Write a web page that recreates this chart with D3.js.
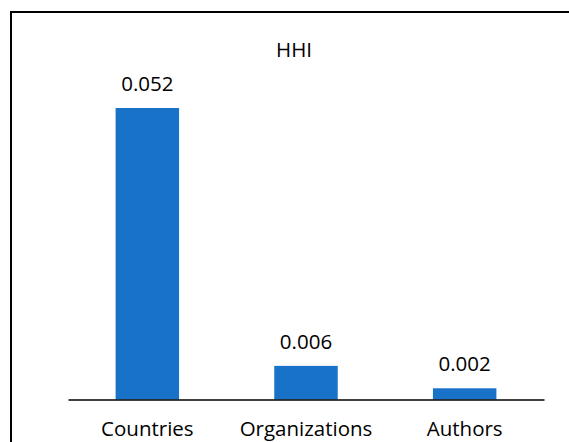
<!DOCTYPE html>
<html>
<head>
<meta charset="utf-8">
<script src="https://cdn.jsdelivr.net/npm/d3@7"></script>
<style>
  html, body { margin: 0; padding: 0; background: #fff; }
  svg { display: block; }
  text { font-family: "Open Sans", "Noto Sans", sans-serif; fill: #000; }
</style>
</head>
<body>
<svg id="chart" width="569" height="442"></svg>
<script>
// HHI concentration by unit of analysis
const categories = ["Countries", "Organizations", "Authors"];
const hhiValues = [0.052, 0.006, 0.002];
const valueLabels = ["0.052", "0.006", "0.002"];
const chartTitle = "HHI";

const svg = d3.select("#chart");
const W = 569, H = 442;

// Outer frame (extends past the right and bottom edges)
svg.append("rect")
  .attr("x", 11).attr("y", 12)
  .attr("width", W + 20).attr("height", H + 20)
  .attr("fill", "#fff")
  .attr("stroke", "#000")
  .attr("stroke-width", 2);

const x = d3.scaleBand()
  .domain(categories)
  .range([68, 544])
  .paddingInner(0.6)
  .paddingOuter(0.3);

const y = d3.scaleLinear()
  .domain([0, 0.052])
  .range([399.5, 108]);

const fontSize = 20.5;

// Title
svg.append("text")
  .attr("x", 294).attr("y", 57)
  .attr("text-anchor", "middle")
  .style("font-size", fontSize + "px")
  .text(chartTitle);

// Bars
svg.append("g").selectAll("rect")
  .data(hhiValues)
  .join("rect")
  .attr("x", (d, i) => x(categories[i]))
  .attr("width", x.bandwidth())
  .attr("y", d => y(d))
  .attr("height", d => y(0) - y(d))
  .attr("fill", "#1872c8");

// Value labels above bars
svg.append("g").selectAll("text")
  .data(hhiValues)
  .join("text")
  .attr("x", (d, i) => x(categories[i]) + x.bandwidth() / 2)
  .attr("y", d => y(d) - 17)
  .attr("text-anchor", "middle")
  .style("font-size", fontSize + "px")
  .text((d, i) => valueLabels[i]);

// Category axis
const axis = svg.append("g")
  .attr("transform", `translate(0,${y(0)})`)
  .call(d3.axisBottom(x).tickSize(0).tickPadding(0));
axis.select(".domain")
  .attr("stroke", "#000")
  .attr("stroke-width", 1.5);
axis.selectAll(".tick text")
  .attr("dy", null)
  .attr("y", 36.5)
  .attr("font-family", null)
  .attr("font-size", null)
  .style("font-size", fontSize + "px")
  .attr("fill", "#000");
</script>
</body>
</html>
